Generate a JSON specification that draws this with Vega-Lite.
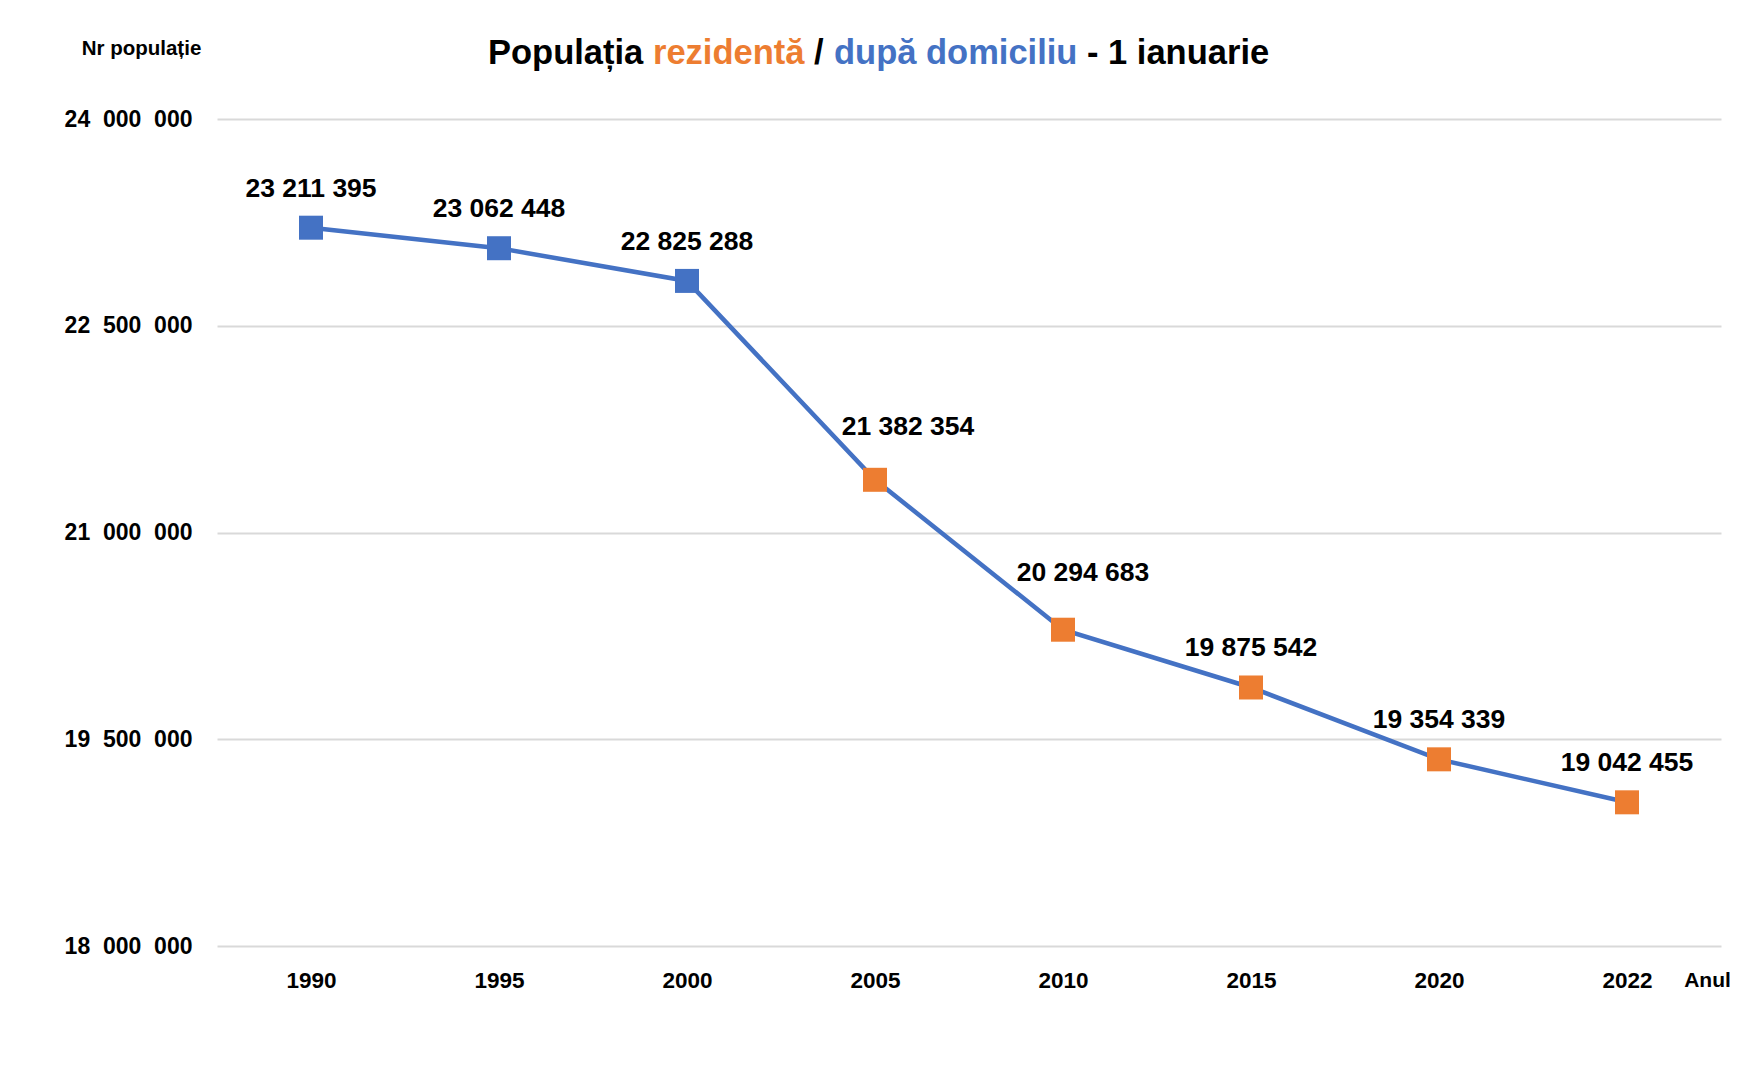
{
  "$schema": "https://vega.github.io/schema/vega-lite/v6.json",
  "autosize": {"type": "none"},
  "width": 1504,
  "height": 827,
  "padding": {"left": 217, "top": 119, "right": 17, "bottom": 135},
  "background": "white",
  "config": {
    "view": {"stroke": null},
    "font": "Liberation Sans",
    "locale": {"number": {"decimal": ",", "thousands": "\u00a0", "grouping": [3], "currency": ["", " lei"]}}
  },
  "layer": [
    {
      "data": {
        "values": [
          {"an": "1990", "populatie": 23211395, "tip": "după domiciliu"},
          {"an": "1995", "populatie": 23062448, "tip": "după domiciliu"},
          {"an": "2000", "populatie": 22825288, "tip": "după domiciliu"},
          {"an": "2005", "populatie": 21382354, "tip": "rezidentă"},
          {"an": "2010", "populatie": 20294683, "tip": "rezidentă"},
          {"an": "2015", "populatie": 19875542, "tip": "rezidentă"},
          {"an": "2020", "populatie": 19354339, "tip": "rezidentă"},
          {"an": "2022", "populatie": 19042455, "tip": "rezidentă"}
        ]
      },
      "encoding": {
        "x": {
          "field": "an", "type": "ordinal",
          "scale": {"type": "point", "padding": 0.5},
          "axis": {
            "labelAngle": 0, "domain": false, "ticks": false, "grid": false,
            "labelPadding": 23, "labelFontSize": 22.5, "labelFontWeight": "bold", "labelColor": "#000000",
            "title": "Anul", "titleFontSize": 21, "titleFontWeight": "bold", "titleColor": "#000000",
            "titleX": 1490, "titleY": 34, "titleAlign": "center", "titleBaseline": "middle", "titleAnchor": null
          }
        },
        "y": {
          "field": "populatie", "type": "quantitative",
          "scale": {"domain": [18000000, 24000000], "nice": false, "zero": false},
          "axis": {
            "values": [18000000, 19500000, 21000000, 22500000, 24000000],
            "labelExpr": "replace(format(datum.value, ',d'), regexp('\u00a0', 'g'), '\u00a0\u00a0')",
            "domain": false, "ticks": false, "grid": true, "gridColor": "#d9d9d9", "gridWidth": 2,
            "labelPadding": 25, "labelFontSize": 23, "labelFontWeight": "bold", "labelColor": "#000000",
            "title": "Nr populație", "titleAngle": 0, "titleFontSize": 20.5, "titleFontWeight": "bold", "titleColor": "#000000",
            "titleX": -76, "titleY": -71, "titleAlign": "center", "titleBaseline": "middle"
          }
        }
      },
      "layer": [
        {
          "mark": {"type": "line", "color": "#4472C4", "strokeWidth": 4.5},
          "encoding": {}
        },
        {
          "mark": {"type": "square", "opacity": 1, "size": 576},
          "encoding": {
            "color": {
              "field": "tip", "type": "nominal",
              "scale": {"domain": ["rezidentă", "după domiciliu"], "range": ["#ED7D31", "#4472C4"]},
              "legend": null
            }
          }
        },
        {
          "transform": [{"filter": "datum.an != '2005' && datum.an != '2010'"}],
          "mark": {"type": "text", "fontSize": 26.5, "fontWeight": "bold", "color": "#000000", "baseline": "alphabetic", "dy": -31},
          "encoding": {"text": {"field": "populatie", "type": "quantitative", "format": ",d"}}
        },
        {
          "transform": [{"filter": "datum.an == '2005'"}],
          "mark": {"type": "text", "fontSize": 26.5, "fontWeight": "bold", "color": "#000000", "baseline": "alphabetic", "dy": -45, "dx": 33},
          "encoding": {"text": {"field": "populatie", "type": "quantitative", "format": ",d"}}
        },
        {
          "transform": [{"filter": "datum.an == '2010'"}],
          "mark": {"type": "text", "fontSize": 26.5, "fontWeight": "bold", "color": "#000000", "baseline": "alphabetic", "dy": -49, "dx": 20},
          "encoding": {"text": {"field": "populatie", "type": "quantitative", "format": ",d"}}
        }
      ]
    },
    {
      "data": {"values": [{"t": "titlu"}]},
      "layer": [
        {"mark": {"type": "text", "text": "Populația", "align": "left", "baseline": "middle", "fontSize": 34.5, "fontWeight": "bold", "color": "#000000", "x": 271, "y": -65}},
        {"mark": {"type": "text", "text": "rezidentă", "align": "left", "baseline": "middle", "fontSize": 34.5, "fontWeight": "bold", "color": "#ED7D31", "x": 436, "y": -65}},
        {"mark": {"type": "text", "text": "/", "align": "left", "baseline": "middle", "fontSize": 34.5, "fontWeight": "bold", "color": "#000000", "x": 597, "y": -65}},
        {"mark": {"type": "text", "text": "după domiciliu", "align": "left", "baseline": "middle", "fontSize": 34.5, "fontWeight": "bold", "color": "#4472C4", "x": 617, "y": -65}},
        {"mark": {"type": "text", "text": "- 1 ianuarie", "align": "left", "baseline": "middle", "fontSize": 34.5, "fontWeight": "bold", "color": "#000000", "x": 870, "y": -65}}
      ]
    }
  ]
}
